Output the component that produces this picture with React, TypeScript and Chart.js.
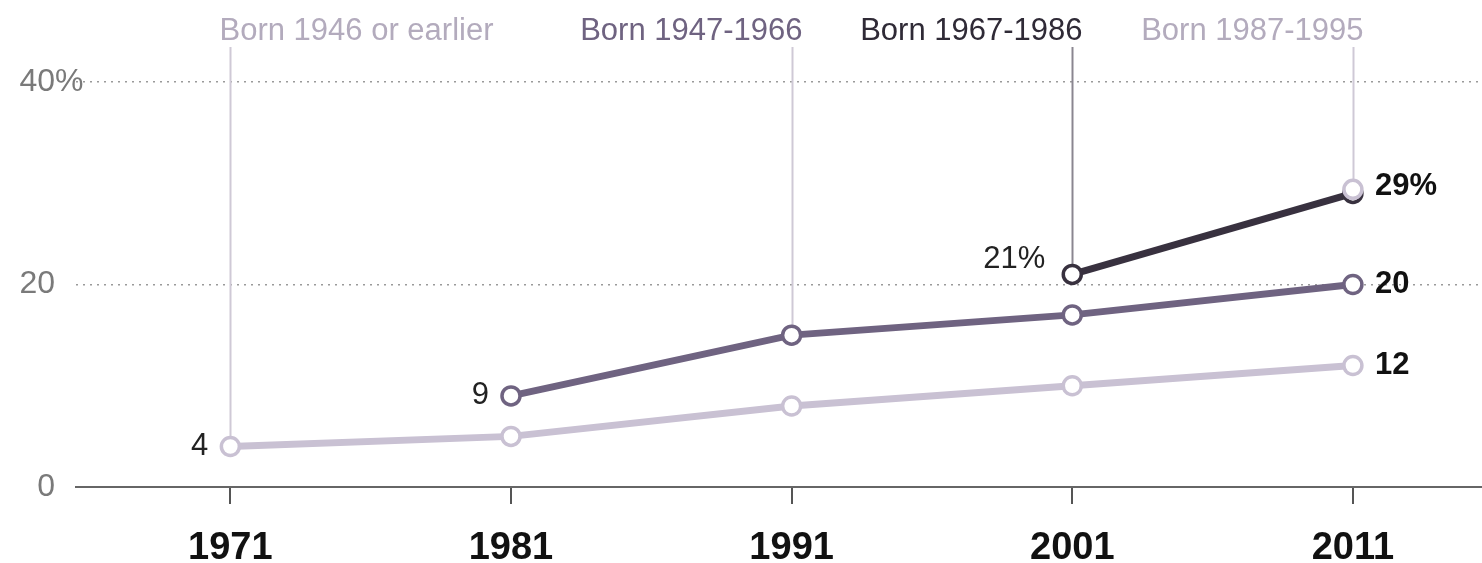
import React, { useEffect, useRef } from "react";
import { Chart, registerables } from "chart.js";

Chart.register(...registerables);

const years = [1971, 1981, 1991, 2001, 2011];
const born1946 = [4, 5, 8, 10, 12];
const born1947 = [null, 9, 15, 17, 20];
const born1967 = [null, null, null, 21, 29];
const born1987 = [null, null, null, null, 29.4];
const seriesNames = ["Born 1946 or earlier", "Born 1947-1966", "Born 1967-1986", "Born 1987-1995"];
const seriesColors = ["#c9c1d3", "#6f6381", "#38313f", "#c9c1d3"];
const nameColors = ["#b3abbd", "#6f6381", "#2f2a36", "#b3abbd"];
const connectorColors = ["#cfc9d6", "#cfc9d6", "#8a8690", "#cfc9d6"];
const connectorYears = [1971, 1991, 2001, 2011];
const yTicks = [0, 20, 40];

const FONT = "'Liberation Sans', Arial, sans-serif";

const toPoints = (vals: (number | null)[]) =>
  years.map((x, i) => ({ x, y: vals[i] })).filter((p) => p.y !== null);

const allSeries = [born1946, born1947, born1967, born1987];

const overlay = {
  id: "overlay",
  beforeDatasetsDraw(chart: any) {
    const ctx = chart.ctx;
    const xs = chart.scales.x;
    const ys = chart.scales.y;
    ctx.save();
    connectorYears.forEach((yr, i) => {
      const idx = years.indexOf(yr);
      const v = allSeries[i][idx] as number;
      const px = Math.round(xs.getPixelForValue(yr)) + 0.5;
      ctx.strokeStyle = connectorColors[i];
      ctx.lineWidth = 2;
      ctx.beginPath();
      ctx.moveTo(px, 47);
      ctx.lineTo(px, ys.getPixelForValue(v));
      ctx.stroke();
      ctx.font = `31px ${FONT}`;
      ctx.fillStyle = nameColors[i];
      ctx.textBaseline = "alphabetic";
      if (i === 0) {
        ctx.textAlign = "left";
        ctx.fillText(seriesNames[i], px - 11, 40);
      } else {
        ctx.textAlign = "right";
        ctx.fillText(seriesNames[i], px + 10, 40);
      }
    });
    ctx.restore();
  },
  afterDatasetsDraw(chart: any) {
    const ctx = chart.ctx;
    const xs = chart.scales.x;
    const ys = chart.scales.y;
    ctx.save();
    ctx.textBaseline = "middle";
    ctx.font = `31px ${FONT}`;
    ctx.fillStyle = "#222";
    ctx.textAlign = "right";
    const l1 = born1946[0] as number;
    ctx.fillText(String(l1), xs.getPixelForValue(years[0]) - 22, ys.getPixelForValue(l1));
    const l2 = born1947[1] as number;
    ctx.fillText(String(l2), xs.getPixelForValue(years[1]) - 22, ys.getPixelForValue(l2));
    const l3 = born1967[3] as number;
    ctx.fillText(l3 + "%", xs.getPixelForValue(years[3]) - 27, ys.getPixelForValue(l3) - 15);
    ctx.font = `bold 31px ${FONT}`;
    ctx.fillStyle = "#111";
    ctx.textAlign = "left";
    const last = years.length - 1;
    const rx = xs.getPixelForValue(years[last]) + 22;
    const r3 = born1967[last] as number;
    ctx.fillText(r3 + "%", rx, ys.getPixelForValue(r3) - 7);
    const r2 = born1947[last] as number;
    ctx.fillText(String(r2), rx, ys.getPixelForValue(r2));
    const r1 = born1946[last] as number;
    ctx.fillText(String(r1), rx, ys.getPixelForValue(r1));
    ctx.restore();
  },
  afterDraw(chart: any) {
    const ctx = chart.ctx;
    const ys = chart.scales.y;
    ctx.save();
    ctx.font = `32px ${FONT}`;
    ctx.fillStyle = "#7a7a7a";
    ctx.textBaseline = "middle";
    yTicks.forEach((v) => {
      const py = ys.getPixelForValue(v);
      ctx.textAlign = "right";
      ctx.fillText(String(v), 55, py);
      if (v === yTicks[yTicks.length - 1]) {
        ctx.textAlign = "left";
        ctx.fillText("%", 55, py);
      }
    });
    ctx.restore();
  },
};

export default function App() {
  const ref = useRef<HTMLCanvasElement | null>(null);
  useEffect(() => {
    if (!ref.current) return;
    const mk = (vals: (number | null)[], i: number, order: number) => ({
      label: seriesNames[i],
      data: toPoints(vals),
      borderColor: seriesColors[i],
      backgroundColor: "#ffffff",
      borderWidth: 7,
      pointRadius: 9,
      pointBorderWidth: 3.5,
      pointBorderColor: seriesColors[i],
      pointBackgroundColor: "#ffffff",
      order,
    });
    const chart = new Chart(ref.current, {
      type: "line",
      data: {
        datasets: [
          mk(born1987, 3, 0),
          mk(born1967, 2, 1),
          mk(born1947, 1, 2),
          mk(born1946, 0, 3),
        ],
      },
      options: {
        animation: false,
        responsive: true,
        maintainAspectRatio: false,
        layout: { autoPadding: false, padding: { top: 82, right: 0, left: 0, bottom: 0 } },
        plugins: { legend: { display: false }, tooltip: { enabled: false } },
        scales: {
          x: {
            type: "linear",
            min: 1965.5,
            max: 2015.6,
            afterBuildTicks: (s: any) => {
              s.ticks = years.map((v) => ({ value: v }));
            },
            afterFit: (s: any) => {
              s.height = 76;
              s.paddingLeft = 0;
              s.paddingRight = 0;
            },
            ticks: {
              padding: 22,
              color: "#111",
              font: { family: FONT, size: 38, weight: "bold" },
              callback: (v: any) => String(v),
            },
            grid: {
              drawOnChartArea: false,
              drawTicks: true,
              tickLength: 17,
              color: "#555",
              lineWidth: 2,
            },
            border: { display: true, color: "#666", width: 2 },
          },
          y: {
            min: 0,
            max: 40,
            afterBuildTicks: (s: any) => {
              s.ticks = yTicks.map((v) => ({ value: v }));
            },
            afterFit: (s: any) => {
              s.width = 76;
              s.paddingTop = 0;
              s.paddingBottom = 0;
            },
            ticks: { display: false },
            grid: {
              drawTicks: false,
              color: (c: any) => (c.tick && c.tick.value === 0 ? "rgba(0,0,0,0)" : "#9a9a9a"),
              lineWidth: 1.5,
            },
            border: { display: false, dash: [2, 5] },
          },
        },
      },
      plugins: [overlay],
    });
    return () => chart.destroy();
  }, []);
  return (
    <div style={{ position: "fixed", left: 0, top: 0, width: 1482, height: 563, background: "#fff" }}>
      <canvas ref={ref} />
    </div>
  );
}
